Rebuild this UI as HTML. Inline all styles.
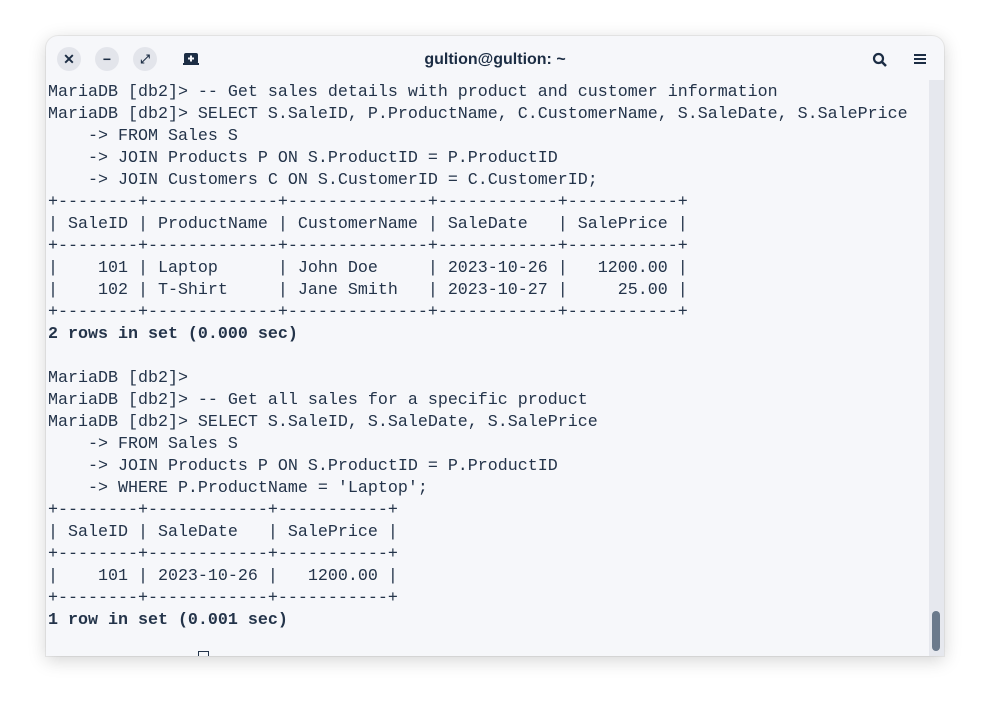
<!DOCTYPE html>
<html><head><meta charset="utf-8"><style>
html,body{margin:0;padding:0;background:#fff;width:990px;height:712px;overflow:hidden}
.win{position:absolute;left:46px;top:36px;width:898px;height:620px;background:#f6f7fa;border-radius:12px 12px 0 0;box-shadow:0 4px 18px rgba(0,0,0,.18),0 0 0 1px rgba(0,0,0,.06);overflow:hidden}
.btn{position:absolute;top:11px;width:24px;height:24px;border-radius:50%;background:#e3e5eb;color:#1c2d44;font:bold 14px "Liberation Sans",sans-serif;text-align:center;line-height:24px}
.title{position:absolute;top:15px;left:0;width:898px;text-align:center;font:bold 16px "Liberation Sans",sans-serif;color:#1c2d44}
pre{position:absolute;left:2px;top:46px;margin:0;font:16.67px/22px "Liberation Mono",monospace;color:#24344a}
b{font-weight:bold}
.track{position:absolute;left:883px;top:44px;width:15px;height:576px;background:#e6e8ee}
.thumb{position:absolute;left:886px;top:575px;width:8px;height:40px;border-radius:4px;background:#6b7a8c}
.cur{position:absolute;left:152px;top:615px;width:9px;height:10px;border:1px solid #24344a;border-bottom:none}
</style></head><body>
<div class="win">
<div class="btn" style="left:11px">✕</div>
<div class="btn" style="left:49px">−</div>
<div class="btn" style="left:87px;font-size:12px">⤢</div>
<svg style="position:absolute;left:137px;top:16px" width="16" height="14"><rect x="1" y="1" width="14" height="11" rx="2" fill="#1c2d44"/><rect x="0" y="11" width="16" height="2" fill="#1c2d44"/><path d="M8 3.5v6M5 6.5h6" stroke="#f6f7fa" stroke-width="2"/></svg>
<div class="title">gultion@gultion: ~</div>
<svg style="position:absolute;left:826px;top:16px" width="16" height="16"><circle cx="6.5" cy="6.5" r="4.5" fill="none" stroke="#1c2d44" stroke-width="2.2"/><path d="M10 10l4 4" stroke="#1c2d44" stroke-width="2.5"/></svg>
<svg style="position:absolute;left:868px;top:17px" width="12" height="12"><path d="M0 2h12M0 6h12M0 10h12" stroke="#1c2d44" stroke-width="2"/></svg>
<pre>MariaDB [db2]&gt; -- Get sales details with product and customer information
MariaDB [db2]&gt; SELECT S.SaleID, P.ProductName, C.CustomerName, S.SaleDate, S.SalePrice
    -&gt; FROM Sales S
    -&gt; JOIN Products P ON S.ProductID = P.ProductID
    -&gt; JOIN Customers C ON S.CustomerID = C.CustomerID;
+--------+-------------+--------------+------------+-----------+
| SaleID | ProductName | CustomerName | SaleDate   | SalePrice |
+--------+-------------+--------------+------------+-----------+
|    101 | Laptop      | John Doe     | 2023-10-26 |   1200.00 |
|    102 | T-Shirt     | Jane Smith   | 2023-10-27 |     25.00 |
+--------+-------------+--------------+------------+-----------+
<b>2 rows in set (0.000 sec)</b>

MariaDB [db2]&gt;
MariaDB [db2]&gt; -- Get all sales for a specific product
MariaDB [db2]&gt; SELECT S.SaleID, S.SaleDate, S.SalePrice
    -&gt; FROM Sales S
    -&gt; JOIN Products P ON S.ProductID = P.ProductID
    -&gt; WHERE P.ProductName = 'Laptop';
+--------+------------+-----------+
| SaleID | SaleDate   | SalePrice |
+--------+------------+-----------+
|    101 | 2023-10-26 |   1200.00 |
+--------+------------+-----------+
<b>1 row in set (0.001 sec)</b></pre>
<div class="track"></div><div class="thumb"></div>
<div class="cur"></div>
</div>
</body></html>
